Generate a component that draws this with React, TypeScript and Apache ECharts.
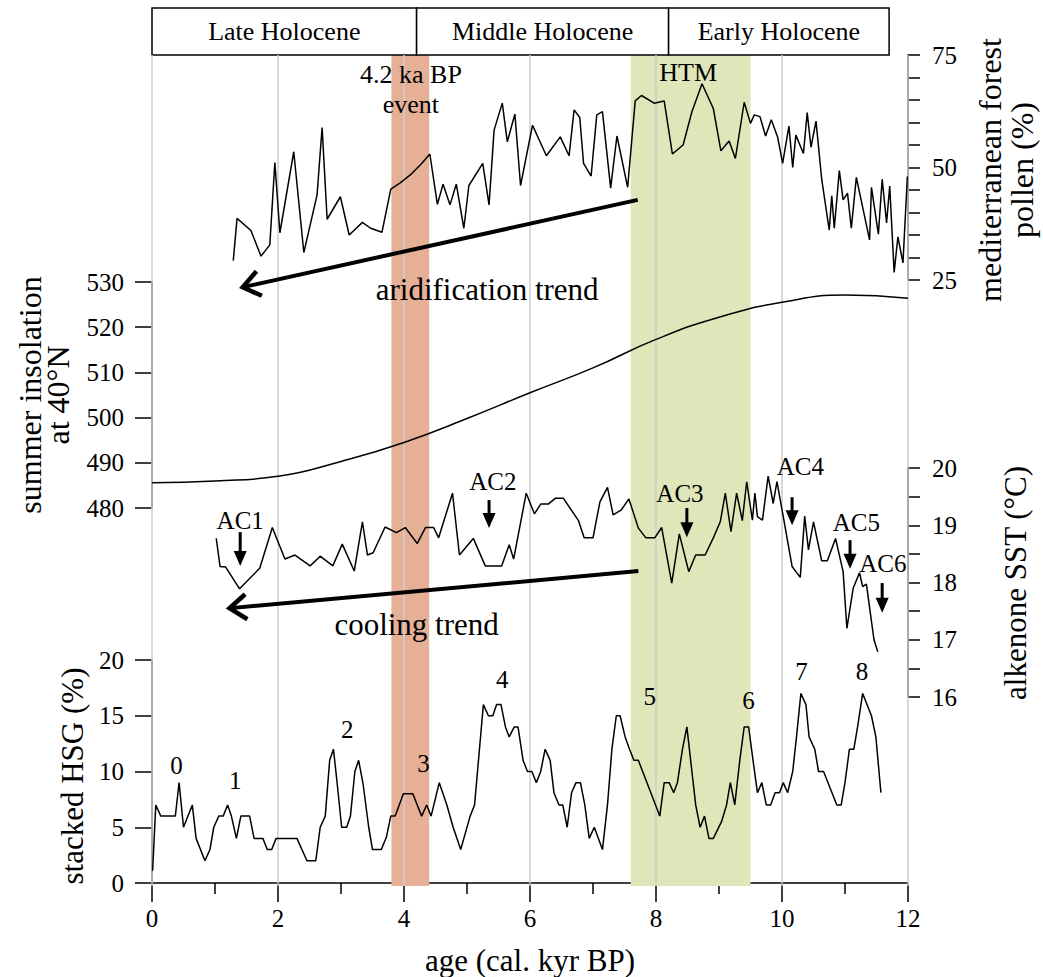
import React, { useEffect, useRef } from 'react';
import * as echarts from 'echarts';

const FONT = '"Liberation Serif", "Times New Roman", serif';

// ---- Data ----
const periodNames = ['Late Holocene', 'Middle Holocene', 'Early Holocene'];
const periodBounds = [0, 4.2, 8.2, 11.7];
const eventBand = [3.8, 4.4]; // 4.2 ka BP event
const htmBand = [7.6, 9.5]; // Holocene thermal maximum
const gridAges = [0, 2, 4, 6, 8, 10, 12];

const pollenAge = [1.29, 1.35, 1.57, 1.73, 1.87, 1.95, 2.03, 2.25, 2.41, 2.62, 2.70, 2.78, 2.99, 3.13, 3.34, 3.47, 3.65, 3.79, 3.94, 4.12, 4.28, 4.41, 4.53, 4.62, 4.73, 4.83, 4.95, 5.03, 5.25, 5.35, 5.43, 5.56, 5.64, 5.76, 5.85, 6.04, 6.26, 6.48, 6.62, 6.70, 6.79, 6.85, 6.97, 7.06, 7.15, 7.28, 7.38, 7.55, 7.67, 7.77, 7.97, 8.13, 8.26, 8.43, 8.57, 8.73, 8.91, 9.03, 9.16, 9.26, 9.40, 9.50, 9.56, 9.65, 9.74, 9.83, 9.93, 10.01, 10.11, 10.17, 10.22, 10.34, 10.40, 10.46, 10.54, 10.63, 10.75, 10.79, 10.83, 10.91, 10.97, 11.04, 11.10, 11.18, 11.39, 11.42, 11.53, 11.59, 11.66, 11.71, 11.78, 11.84, 11.92, 11.99];
const pollenVal = [29.3, 38.7, 36.0, 30.3, 32.8, 51.1, 35.5, 53.5, 31.1, 43.9, 58.9, 38.5, 43.5, 35.0, 37.8, 36.5, 35.6, 45.2, 46.6, 48.6, 50.9, 53.0, 41.8, 46.3, 41.7, 46.3, 36.5, 46.0, 50.9, 41.7, 58.3, 64.3, 55.7, 61.9, 46.0, 59.4, 52.6, 56.8, 52.6, 62.8, 61.1, 50.9, 48.1, 61.7, 62.4, 45.4, 57.0, 45.6, 64.8, 66.0, 64.3, 64.8, 53.0, 55.0, 62.4, 68.6, 63.1, 53.7, 55.9, 52.0, 64.5, 59.8, 61.7, 61.3, 57.0, 60.6, 56.8, 50.9, 59.2, 50.0, 57.2, 53.1, 62.2, 54.5, 60.3, 47.4, 36.1, 43.7, 36.5, 49.3, 42.8, 44.3, 36.5, 47.8, 33.9, 45.6, 35.2, 47.4, 37.7, 45.9, 26.7, 34.6, 28.8, 48.0];

const insolAge = [0, 1, 2, 3, 4, 5, 6, 7, 8, 9, 10, 11, 12];
const insolVal = [485.6, 486.0, 487.0, 490.3, 494.5, 499.8, 505.5, 511.0, 517.3, 522.2, 525.5, 527.1, 526.4];

const sstAge = [1.02, 1.08, 1.17, 1.39, 1.71, 1.91, 2.11, 2.27, 2.51, 2.67, 2.87, 3.02, 3.21, 3.34, 3.42, 3.51, 3.70, 3.88, 4.02, 4.21, 4.34, 4.47, 4.55, 4.77, 4.88, 5.10, 5.29, 5.55, 5.67, 5.74, 5.94, 6.07, 6.17, 6.29, 6.40, 6.53, 6.77, 6.86, 7.00, 7.11, 7.23, 7.32, 7.45, 7.57, 7.72, 7.84, 7.98, 8.09, 8.25, 8.37, 8.52, 8.63, 8.78, 8.91, 9.02, 9.10, 9.19, 9.28, 9.37, 9.44, 9.53, 9.57, 9.61, 9.69, 9.78, 9.86, 9.92, 10.03, 10.16, 10.29, 10.36, 10.42, 10.50, 10.63, 10.72, 10.85, 10.97, 11.03, 11.13, 11.23, 11.28, 11.34, 11.46, 11.52];
const sstVal = [18.77, 18.28, 18.27, 17.89, 18.25, 18.96, 18.41, 18.48, 18.29, 18.46, 18.29, 18.67, 18.20, 19.06, 18.48, 18.52, 18.97, 18.87, 18.96, 18.68, 18.96, 18.96, 18.78, 19.56, 18.48, 18.77, 18.29, 18.29, 18.66, 18.41, 19.56, 19.2, 19.37, 19.37, 19.47, 19.47, 19.08, 18.78, 18.78, 19.41, 19.66, 19.18, 19.27, 19.46, 18.95, 18.78, 18.78, 18.96, 17.99, 18.85, 18.19, 18.48, 18.48, 18.78, 19.06, 19.56, 18.89, 19.56, 19.08, 19.76, 19.09, 19.56, 19.15, 19.09, 19.86, 19.38, 19.76, 19.09, 18.28, 18.09, 19.16, 18.57, 19.06, 18.38, 18.38, 18.77, 18.19, 17.20, 17.90, 18.17, 17.93, 17.97, 17.0, 16.79];

const hsgAge = [0.01, 0.06, 0.14, 0.37, 0.43, 0.50, 0.64, 0.70, 0.84, 0.92, 0.98, 1.06, 1.13, 1.20, 1.26, 1.34, 1.41, 1.55, 1.62, 1.76, 1.83, 1.90, 1.97, 2.30, 2.46, 2.60, 2.67, 2.75, 2.82, 2.88, 2.94, 3.01, 3.09, 3.15, 3.22, 3.28, 3.35, 3.44, 3.50, 3.64, 3.72, 3.79, 3.86, 3.99, 4.14, 4.28, 4.36, 4.43, 4.56, 4.68, 4.78, 4.90, 5.05, 5.12, 5.26, 5.34, 5.41, 5.47, 5.54, 5.61, 5.67, 5.75, 5.81, 5.89, 5.96, 6.03, 6.10, 6.17, 6.24, 6.32, 6.38, 6.46, 6.52, 6.59, 6.66, 6.73, 6.80, 6.87, 6.94, 7.02, 7.15, 7.23, 7.30, 7.37, 7.43, 7.51, 7.58, 7.65, 7.72, 8.06, 8.13, 8.21, 8.28, 8.34, 8.42, 8.49, 8.57, 8.63, 8.70, 8.77, 8.84, 8.91, 9.04, 9.12, 9.18, 9.25, 9.33, 9.40, 9.47, 9.54, 9.61, 9.68, 9.75, 9.82, 9.89, 9.96, 10.02, 10.09, 10.17, 10.23, 10.30, 10.38, 10.43, 10.52, 10.58, 10.66, 10.87, 10.94, 11.00, 11.07, 11.14, 11.20, 11.28, 11.42, 11.49, 11.57];
const hsgVal = [1.1, 7.0, 6.0, 6.0, 9.0, 5.0, 7.0, 4.0, 2.0, 3.0, 5.0, 6.0, 6.0, 7.0, 6.0, 4.0, 6.0, 6.0, 4.0, 4.0, 3.0, 3.0, 4.0, 4.0, 2.0, 2.0, 5.0, 6.0, 11.0, 12.0, 8.9, 5.0, 5.0, 6.0, 10.0, 11.0, 8.9, 5.0, 3.0, 3.0, 4.1, 6.0, 6.0, 8.0, 8.0, 6.0, 7.0, 6.0, 9.0, 7.0, 5.0, 3.0, 6.0, 7.0, 16.0, 15.0, 15.0, 16.0, 16.0, 14.0, 13.1, 14.0, 14.0, 11.0, 10.0, 10.0, 9.0, 10.0, 12.0, 11.0, 8.1, 7.0, 7.0, 5.0, 8.1, 9.0, 9.0, 7.0, 4.0, 5.0, 3.0, 7.0, 12.0, 15.0, 15.0, 13.1, 12.0, 11.0, 11.0, 6.0, 9.0, 9.0, 8.1, 9.0, 12.0, 14.0, 10.0, 7.0, 5.0, 6.0, 4.0, 4.0, 5.5, 7.0, 9.0, 7.0, 11.0, 14.0, 14.0, 11.0, 8.1, 9.0, 7.0, 7.0, 8.1, 8.1, 9.0, 8.1, 10.0, 13.1, 17.0, 16.0, 13.1, 12.0, 10.0, 10.0, 7.0, 7.0, 9.0, 12.0, 12.0, 14.0, 17.0, 15.0, 13.1, 8.1];

// annotation anchors in data coordinates
const acNames = ['AC1', 'AC2', 'AC3', 'AC4', 'AC5', 'AC6'];
const acLabelAge = [1.40, 5.41, 8.38, 10.29, 11.18, 11.60];
const acLabelSst = [19.09, 19.76, 19.56, 20.02, 19.04, 18.34];
const acArrowAge = [1.40, 5.35, 8.49, 10.16, 11.08, 11.59];
const acArrowTop = [18.88, 19.44, 19.30, 19.49, 18.74, 17.99];
const acArrowTip = [18.29, 18.95, 18.79, 19.00, 18.24, 17.47];

const hsgEventNames = ['0', '1', '2', '3', '4', '5', '6', '7', '8'];
const hsgEventAge = [0.39, 1.32, 3.10, 4.31, 5.56, 7.90, 9.47, 10.31, 11.27];
const hsgEventVal = [10.56, 9.23, 13.74, 10.71, 18.29, 16.75, 16.40, 18.96, 18.96];

const zip = (a: number[], b: number[]) => a.map((v, i) => [v, b[i]]);

export default function App() {
  const ref = useRef<HTMLDivElement>(null);
  useEffect(() => {
    const chart = echarts.init(ref.current!, null, { renderer: 'svg' });
    const L = 152, R = 135;
    const black = '#000';
    const axisLine = { show: true, onZero: false, lineStyle: { color: black, width: 1.5 } };
    const lbl = (margin: number) => ({ show: true, color: black, fontSize: 25, fontFamily: FONT, margin });
    const hiddenX = (grid: number) => ({ type: 'value', gridIndex: grid, min: 0, max: 12, show: false });

    const grids = [
      { left: L, right: R, top: 55, height: 831 }, // background
      { left: L, right: R, top: 8, height: 47 }, // header
      { left: L, right: R, top: 55, height: 225 }, // pollen
      { left: L, right: R, top: 282, height: 226 }, // insolation
      { left: L, right: R, top: 468, height: 229 }, // SST
      { left: L, right: R, top: 660, height: 226 }, // HSG
    ];

    const option: any = {
      animation: false,
      backgroundColor: '#fff',
      textStyle: { fontFamily: FONT },
      grid: grids,
      xAxis: [
        hiddenX(0), hiddenX(1), hiddenX(2), hiddenX(3), hiddenX(4),
        {
          type: 'value', gridIndex: 5, min: 0, max: 12, interval: 2,
          axisLine, splitLine: { show: false },
          axisTick: { show: true, length: 19, lineStyle: { color: black, width: 1.5 } },
          minorTick: { show: true, splitNumber: 2, length: 11, lineStyle: { color: black, width: 1.5 } },
          axisLabel: lbl(23),
          name: 'age (cal. kyr BP)', nameLocation: 'middle', nameGap: 62,
          nameTextStyle: { fontSize: 31, color: black, fontFamily: FONT },
        },
      ],
      yAxis: [
        { type: 'value', gridIndex: 0, min: 0, max: 1, show: false },
        { type: 'value', gridIndex: 1, min: 0, max: 1, show: false },
        {
          type: 'value', gridIndex: 2, position: 'right', min: 25, max: 75, interval: 25,
          axisLine, splitLine: { show: false },
          axisTick: { show: true, length: 12, lineStyle: { color: black, width: 1.5 } },
          minorTick: { show: true, splitNumber: 5, length: 12, lineStyle: { color: black, width: 1.5 } },
          axisLabel: lbl(24),
        },
        {
          type: 'value', gridIndex: 3, position: 'left', min: 480, max: 530, interval: 10,
          axisLine, splitLine: { show: false },
          axisTick: { show: true, length: 17, lineStyle: { color: black, width: 1.5 } },
          axisLabel: lbl(28),
        },
        {
          type: 'value', gridIndex: 4, position: 'right', min: 16, max: 20, interval: 1,
          axisLine, splitLine: { show: false },
          axisTick: { show: true, length: 12, lineStyle: { color: black, width: 1.5 } },
          minorTick: { show: true, splitNumber: 2, length: 12, lineStyle: { color: black, width: 1.5 } },
          axisLabel: lbl(24),
        },
        {
          type: 'value', gridIndex: 5, position: 'left', min: 0, max: 20, interval: 5,
          axisLine, splitLine: { show: false },
          axisTick: { show: true, length: 17, lineStyle: { color: black, width: 1.5 } },
          axisLabel: lbl(28),
        },
      ],
      series: [
        {
          type: 'line', xAxisIndex: 0, yAxisIndex: 0, z: 1, data: [[0, 0]], showSymbol: false,
          lineStyle: { width: 0, opacity: 0 }, silent: true,
          markArea: {
            silent: true,
            data: [
              [{ xAxis: eventBand[0], itemStyle: { color: '#e6b096' } }, { xAxis: eventBand[1] }],
              [{ xAxis: htmBand[0], itemStyle: { color: '#dfe6b9' } }, { xAxis: htmBand[1] }],
            ],
          },
        },
        {
          type: 'line', xAxisIndex: 0, yAxisIndex: 0, z: 2, data: [[0, 0]], showSymbol: false,
          lineStyle: { width: 0, opacity: 0 }, silent: true,
          markLine: {
            silent: true, symbol: 'none', label: { show: false },
            lineStyle: { color: '#cdcdcd', width: 1.5, type: 'solid' },
            data: gridAges.map((v) => ({ xAxis: v })),
          },
        },
        {
          type: 'line', xAxisIndex: 1, yAxisIndex: 1, z: 2, data: [[0, 0]], showSymbol: false,
          lineStyle: { width: 0, opacity: 0 }, silent: true,
          markArea: {
            silent: true,
            itemStyle: { color: '#fff', borderColor: black, borderWidth: 1.5 },
            label: { show: true, position: 'inside', color: black, fontSize: 26, fontFamily: FONT },
            data: periodNames.map((n, i) => [{ xAxis: periodBounds[i], name: n }, { xAxis: periodBounds[i + 1] }]),
          },
        },
        {
          type: 'line', xAxisIndex: 2, yAxisIndex: 2, z: 5, showSymbol: false, data: zip(pollenAge, pollenVal),
          lineStyle: { color: black, width: 1.5 },
        },
        {
          type: 'line', xAxisIndex: 3, yAxisIndex: 3, z: 5, showSymbol: false, smooth: true, data: zip(insolAge, insolVal),
          lineStyle: { color: black, width: 1.5 },
        },
        {
          type: 'line', xAxisIndex: 4, yAxisIndex: 4, z: 5, showSymbol: false, data: zip(sstAge, sstVal),
          lineStyle: { color: black, width: 1.5 },
        },
        {
          type: 'line', xAxisIndex: 5, yAxisIndex: 5, z: 5, showSymbol: false, data: zip(hsgAge, hsgVal),
          lineStyle: { color: black, width: 1.5 },
        },
      ],
    };
    chart.setOption(option);

    const px = (g: number, x: number, y: number) => chart.convertToPixel({ gridIndex: g } as any, [x, y]) as number[];
    const txt = (p: number[], text: string, size: number, rot = 0, lh?: number) => ({
      type: 'text', x: p[0], y: p[1], rotation: rot, z: 100,
      style: { text, fill: black, font: `${size}px ${FONT}`, textAlign: 'center', textVerticalAlign: 'middle', lineHeight: lh },
    });
    const bigArrow = (a: number[], b: number[]) => {
      const ang = Math.atan2(a[1] - b[1], a[0] - b[0]);
      const len = 21, h = 0.64;
      const p1 = [b[0] + len * Math.cos(ang - h), b[1] + len * Math.sin(ang - h)];
      const p2 = [b[0] + len * Math.cos(ang + h), b[1] + len * Math.sin(ang + h)];
      return [
        { type: 'line', z: 100, shape: { x1: a[0], y1: a[1], x2: b[0] + 1.5 * Math.cos(ang), y2: b[1] + 1.5 * Math.sin(ang) }, style: { stroke: black, lineWidth: 4 } },
        { type: 'polyline', z: 100, shape: { points: [p1, b, p2] }, style: { stroke: black, lineWidth: 4.5, fill: 'none', lineJoin: 'miter' } },
      ];
    };
    const downArrow = (top: number[], tip: number[]) => [
      { type: 'line', z: 100, shape: { x1: top[0], y1: top[1], x2: tip[0], y2: tip[1] - 10 }, style: { stroke: black, lineWidth: 3 } },
      { type: 'polygon', z: 100, shape: { points: [[tip[0] - 6.5, tip[1] - 15], [tip[0] + 6.5, tip[1] - 15], [tip[0], tip[1]]] }, style: { fill: black } },
    ];

    const g: any[] = [];
    g.push(txt(px(2, 4.11, 70.6), '4.2 ka BP', 26));
    g.push(txt(px(2, 4.11, 64.1), 'event', 26));
    g.push(txt(px(2, 8.51, 71.2), 'HTM', 26));
    g.push(txt(px(2, 5.32, 22.8), 'aridification trend', 31));
    g.push(...bigArrow(px(2, 7.71, 42.8), px(2, 1.44, 23.4)));
    g.push(txt(px(4, 4.20, 17.26), 'cooling trend', 31));
    g.push(...bigArrow(px(4, 7.72, 18.20), px(4, 1.23, 17.55)));
    acNames.forEach((n, i) => {
      g.push(txt(px(4, acLabelAge[i], acLabelSst[i]), n, 25));
      g.push(...downArrow(px(4, acArrowAge[i], acArrowTop[i]), px(4, acArrowAge[i], acArrowTip[i])));
    });
    hsgEventNames.forEach((n, i) => g.push(txt(px(5, hsgEventAge[i], hsgEventVal[i]), n, 25)));
    // axis titles
    g.push(txt([44, 395], 'summer insolation\nat 40°N', 32, Math.PI / 2, 28));
    g.push(txt([72, 776], 'stacked HSG (%)', 31, Math.PI / 2));
    g.push(txt([1006, 170], 'mediterranean forest\npollen (%)', 32, Math.PI / 2, 32));
    g.push(txt([1015, 583], 'alkenone SST (°C)', 31, Math.PI / 2));
    chart.setOption({ graphic: g });

    return () => chart.dispose();
  }, []);
  return <div ref={ref} style={{ position: 'absolute', left: 0, top: 0, width: 1043, height: 977, background: '#fff' }} />;
}
